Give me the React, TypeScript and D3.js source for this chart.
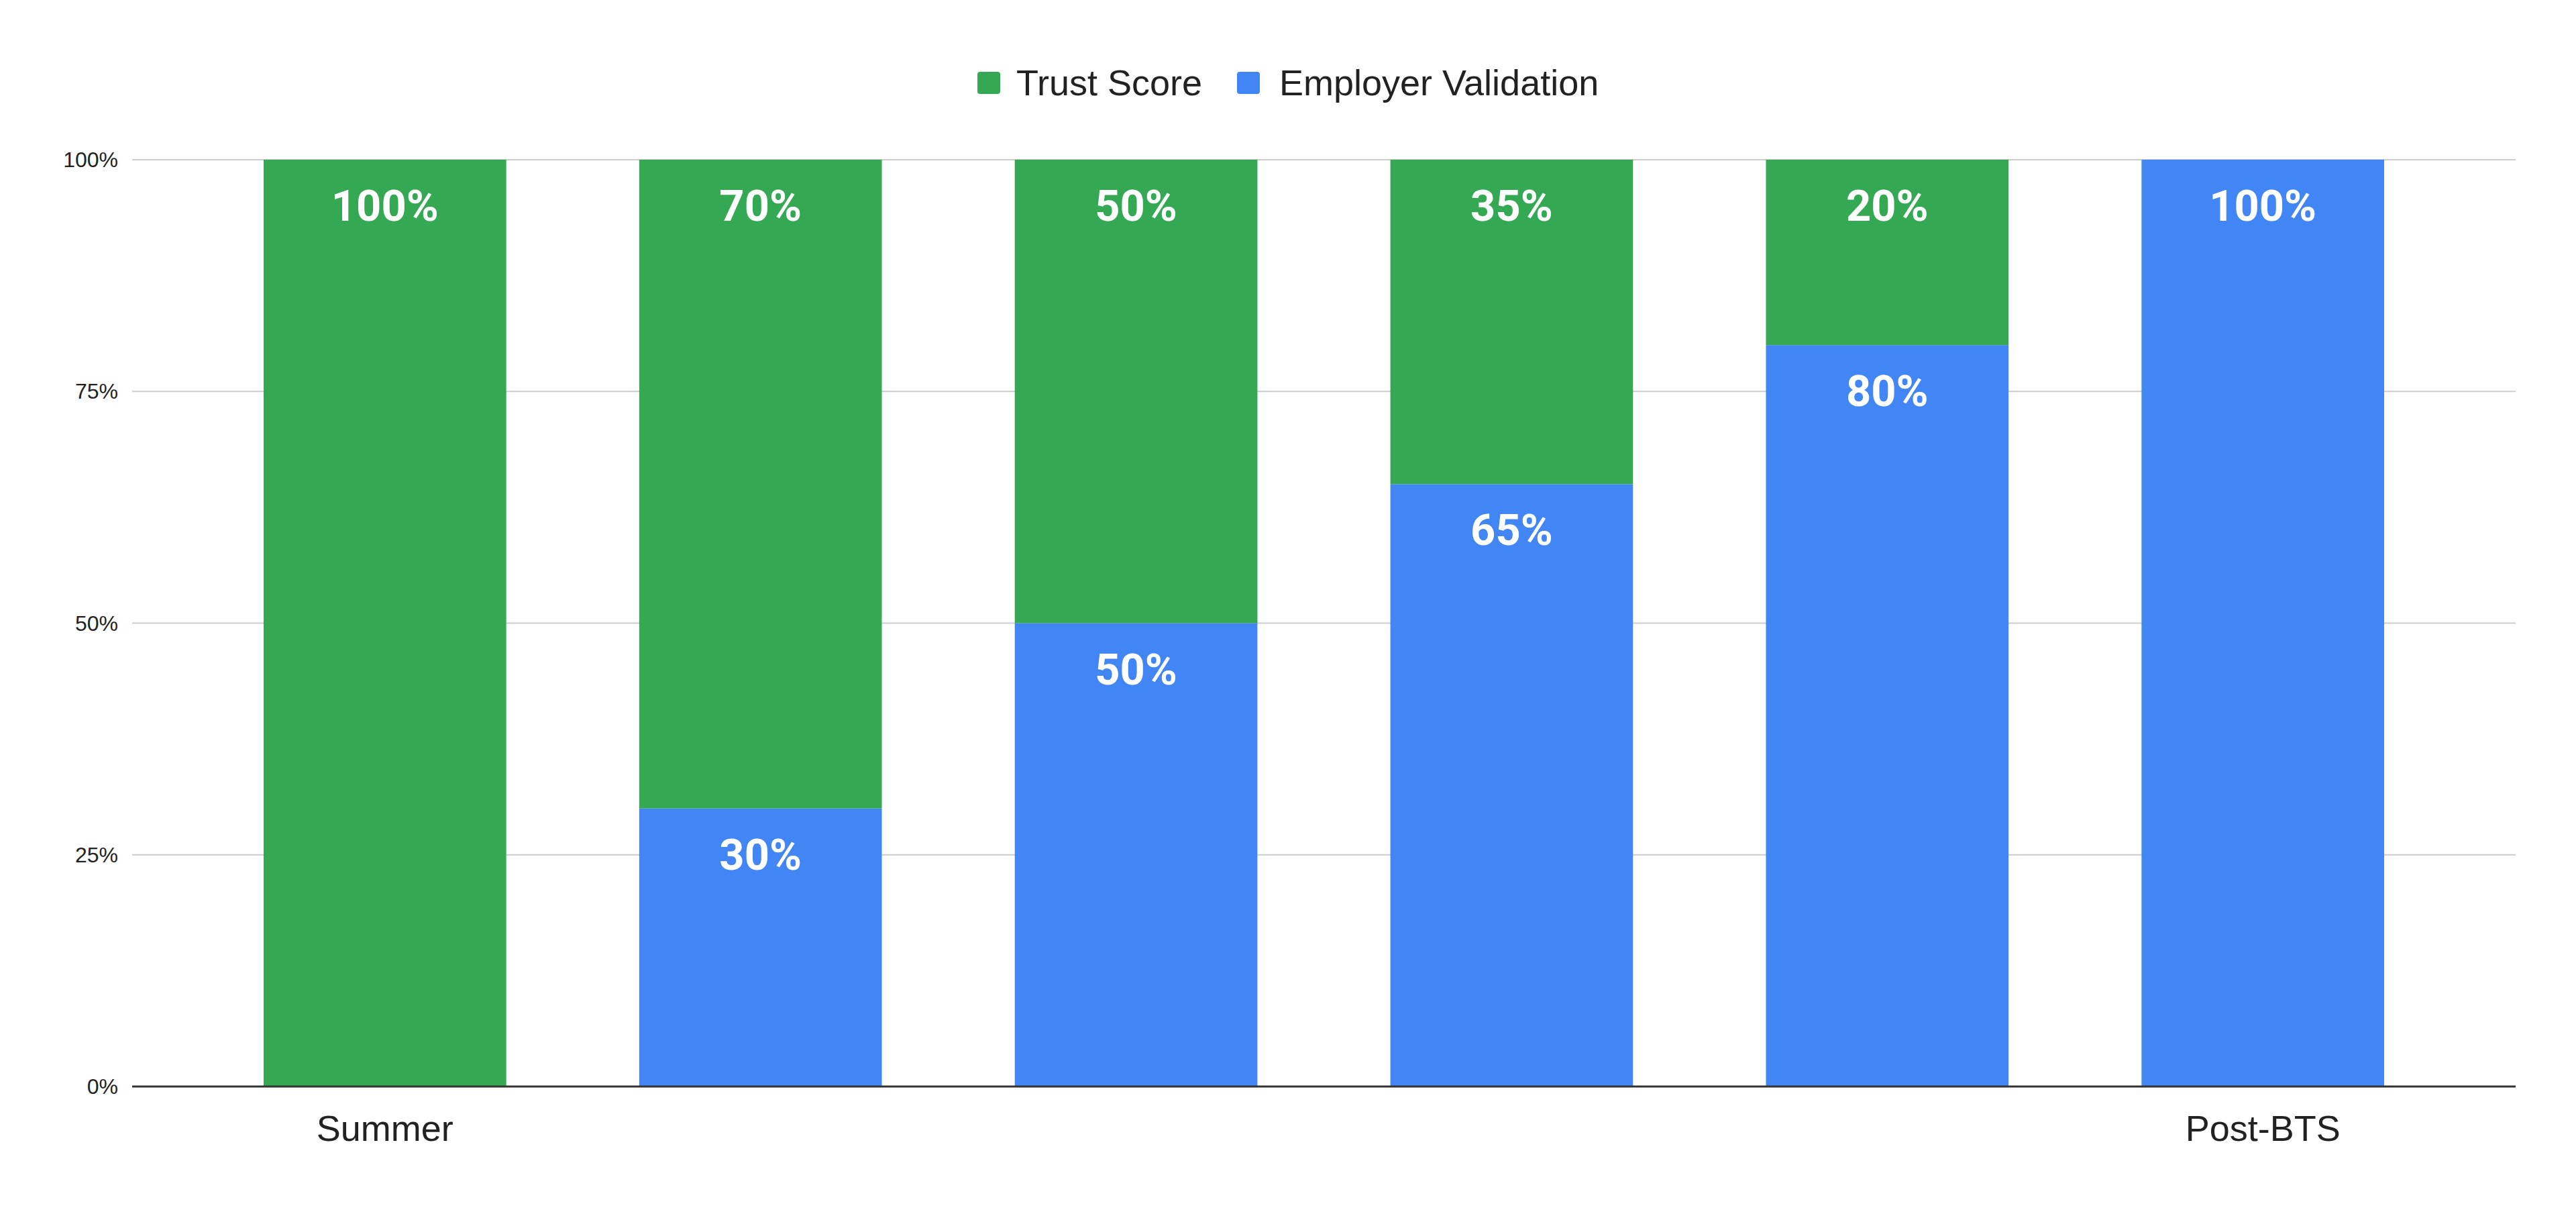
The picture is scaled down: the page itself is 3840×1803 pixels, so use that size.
import React from "react";
import * as d3 from "d3";

const categories: string[] = ["Summer", "", "", "", "", "Post-BTS"];
const employerValidation: number[] = [0, 30, 50, 65, 80, 100];
const trustScore: number[] = [100, 70, 50, 35, 20, 0];
const yTicks: number[] = [0, 25, 50, 75, 100];
const seriesNames: string[] = ["Trust Score", "Employer Validation"];

const W = 3840;
const H = 1803;
const GREEN = "#34A853";
const BLUE = "#4285F4";
const SANS = "'Liberation Sans', Arial, Helvetica, sans-serif";

export default function App() {
  const left = 197;
  const right = 3750;
  const top = 238;
  const bottom = 1619;

  const idx = categories.map((_, i) => i);
  const x = d3
    .scaleBand<number>()
    .domain(idx)
    .range([left, right])
    .paddingInner(0.354)
    .paddingOuter(0.35);
  const y = d3.scaleLinear().domain([0, 100]).range([bottom, top]);
  const fmt = (v: number) => `${v}%`;

  const rows = idx.map((i) => ({
    i,
    employer: employerValidation[i],
    trust: trustScore[i],
  }));
  const stack = d3.stack<any>().keys(["employer", "trust"]);
  const layers = stack(rows);
  const colors: Record<string, string> = { employer: BLUE, trust: GREEN };

  const legendItems = [
    { name: seriesNames[0], color: GREEN, sx: 1457, tx: 1515 },
    { name: seriesNames[1], color: BLUE, sx: 1844, tx: 1907 },
  ];

  return (
    <svg
      width={W}
      height={H}
      viewBox={`0 0 ${W} ${H}`}
      style={{ position: "absolute", left: 0, top: 0, display: "block", background: "#fff" }}
    >
      <rect x={0} y={0} width={W} height={H} fill="#fff" />
      {/* legend */}
      {legendItems.map((it) => (
        <g key={it.name}>
          <rect x={it.sx} y={107} width={34} height={33} rx={4} fill={it.color} />
          <text x={it.tx} y={142} fontFamily={SANS} fontSize={54} fill="#222">
            {it.name}
          </text>
        </g>
      ))}
      {/* gridlines and y tick labels */}
      {yTicks.map((t) => (
        <g key={t}>
          {t !== 0 && (
            <line x1={left} x2={right} y1={y(t)} y2={y(t)} stroke="#cccccc" strokeWidth={2} />
          )}
          <text
            x={176}
            y={y(t) + 11}
            textAnchor="end"
            fontFamily={SANS}
            fontSize={32}
            fill="#222"
          >
            {fmt(t)}
          </text>
        </g>
      ))}
      {/* bars */}
      {layers.map((layer) =>
        layer.map((d: any, j: number) => {
          const h = y(d[0]) - y(d[1]);
          if (h <= 0) return null;
          return (
            <rect
              key={layer.key + j}
              x={x(j)}
              y={y(d[1])}
              width={x.bandwidth()}
              height={h}
              fill={colors[layer.key]}
            />
          );
        })
      )}
      {/* data labels */}
      {layers.map((layer) =>
        layer.map((d: any, j: number) => {
          const v = d[1] - d[0];
          if (v <= 0) return null;
          return (
            <text
              key={"l" + layer.key + j}
              x={(x(j) as number) + x.bandwidth() / 2}
              y={y(d[1]) + 91}
              textAnchor="middle"
              fontFamily="Roboto, 'Noto Sans', sans-serif"
              fontWeight={700}
              fontSize={65}
              fill="#fff"
            >
              {fmt(v)}
            </text>
          );
        })
      )}
      {/* baseline */}
      <line x1={left} x2={right} y1={bottom} y2={bottom} stroke="#333" strokeWidth={3} />
      {/* x labels */}
      {idx.map((i) =>
        categories[i] ? (
          <text
            key={"x" + i}
            x={(x(i) as number) + x.bandwidth() / 2}
            y={1700}
            textAnchor="middle"
            fontFamily={SANS}
            fontSize={54}
            fill="#222"
          >
            {categories[i]}
          </text>
        ) : null
      )}
    </svg>
  );
}
